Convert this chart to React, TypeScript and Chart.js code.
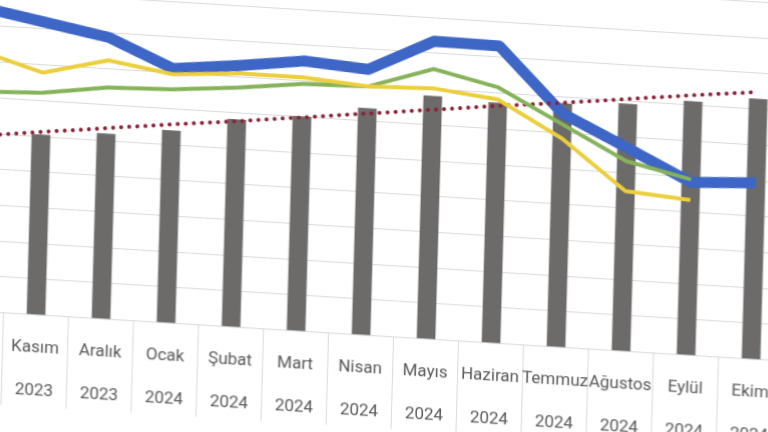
import React, { useEffect, useRef } from "react";
import { Chart, registerables } from "chart.js";

Chart.register(...registerables);

const monthLabels = ["Ekim", "Kasım", "Aralık", "Ocak", "Şubat", "Mart", "Nisan", "Mayıs", "Haziran", "Temmuz", "Ağustos", "Eylül", "Ekim"];
const yearLabels = ["2023", "2023", "2023", "2024", "2024", "2024", "2024", "2024", "2024", "2024", "2024", "2024", "2024"];

const barValues = [24.4, 25.2, 25.9, 26.9, 29.0, 30.0, 31.7, 34.0, 33.6, 34.1, 34.6, 35.5, 36.4];
const blueValues = [42.6, 41.0, 39.4, 35.6, 36.6, 37.8, 37.2, 41.7, 41.6, 32.7, 28.5, 24.2, 24.7];
const yellowValues = [36.5, 33.9, 36.2, 34.8, 35.5, 35.5, 34.8, 35.1, 34.1, 29.2, 22.4, 21.7, null];
const greenValues = [30.7, 31.1, 32.4, 32.7, 33.5, 34.6, 34.8, 37.8, 35.8, 31.2, 26.6, 24.6, null];
const trendValues = [24.5, 25.6, 26.7, 27.8, 28.8, 29.9, 31.0, 32.1, 33.2, 34.2, 35.3, 36.4, 37.4];

const yMin = 0;
const yMax = 50;
const yStep = 5;

const FONT = 'Roboto, "Liberation Sans", sans-serif';

export default function App() {
  const canvasRef = useRef<HTMLCanvasElement | null>(null);

  useEffect(() => {
    const canvas = canvasRef.current;
    if (!canvas) return;
    const labels = monthLabels.map((m, i) => [m, yearLabels[i]]);
    const chart = new Chart(canvas, {
      type: "bar",
      data: {
        labels,
        datasets: [
          {
            type: "line",
            data: yellowValues,
            borderColor: "#ebcf3c",
            borderWidth: 4,
            pointRadius: 0,
            tension: 0,
            order: 1,
            clip: false,
          } as any,
          {
            type: "line",
            data: greenValues,
            borderColor: "#86b35a",
            borderWidth: 4,
            pointRadius: 0,
            tension: 0,
            order: 2,
            clip: false,
          } as any,
          {
            type: "line",
            data: trendValues,
            borderColor: "#8a2236",
            borderWidth: 4,
            borderDash: [0.1, 8],
            borderCapStyle: "round",
            pointRadius: 0,
            tension: 0,
            order: 3,
            clip: false,
          } as any,
          {
            type: "line",
            data: blueValues,
            borderColor: "#3d66c6",
            borderWidth: 11,
            borderJoinStyle: "round",
            pointRadius: 0,
            tension: 0,
            order: 4,
            clip: false,
          } as any,
          {
            type: "bar",
            data: barValues,
            backgroundColor: "#6d6a6a",
            barThickness: 18,
            order: 5,
          } as any,
        ],
      },
      options: {
        animation: false,
        responsive: true,
        maintainAspectRatio: false,
        layout: { padding: 0 },
        plugins: { legend: { display: false }, tooltip: { enabled: false } },
        scales: {
          x: {
            type: "category",
            offset: true,
            grid: {
              display: true,
              offset: true,
              drawOnChartArea: false,
              drawTicks: true,
              tickLength: 92,
              color: "#d9d9d9",
              lineWidth: 1,
            },
            border: { display: true, color: "#d9d9d9" },
            ticks: {
              autoSkip: false,
              maxRotation: 0,
              minRotation: 0,
              padding: -79.75,
              color: "#595959",
              font: { family: FONT, size: 17, lineHeight: 42.5 / 17 },
            },
            afterFit: (scale: any) => {
              scale.height = 110.5;
            },
          },
          y: {
            min: yMin,
            max: yMax,
            ticks: { display: false, stepSize: yStep },
            grid: { color: "#dadada", lineWidth: 1, drawTicks: false },
            border: { display: false },
            afterFit: (scale: any) => {
              scale.width = 0;
            },
          },
        },
      },
    });
    return () => chart.destroy();
  }, []);

  return (
    <div
      style={{
        position: "fixed",
        left: 0,
        top: 0,
        width: 768,
        height: 432,
        overflow: "hidden",
        background: "#ffffff",
      }}
    >
      <div
        style={{
          position: "absolute",
          left: -66.7,
          top: -50,
          width: 856,
          height: 473,
          transformOrigin: "66.7px 362.5px",
          transform: "matrix(1, 0.062, -0.028, 1, 0, 0)",
        }}
      >
        <canvas ref={canvasRef} />
      </div>
    </div>
  );
}
